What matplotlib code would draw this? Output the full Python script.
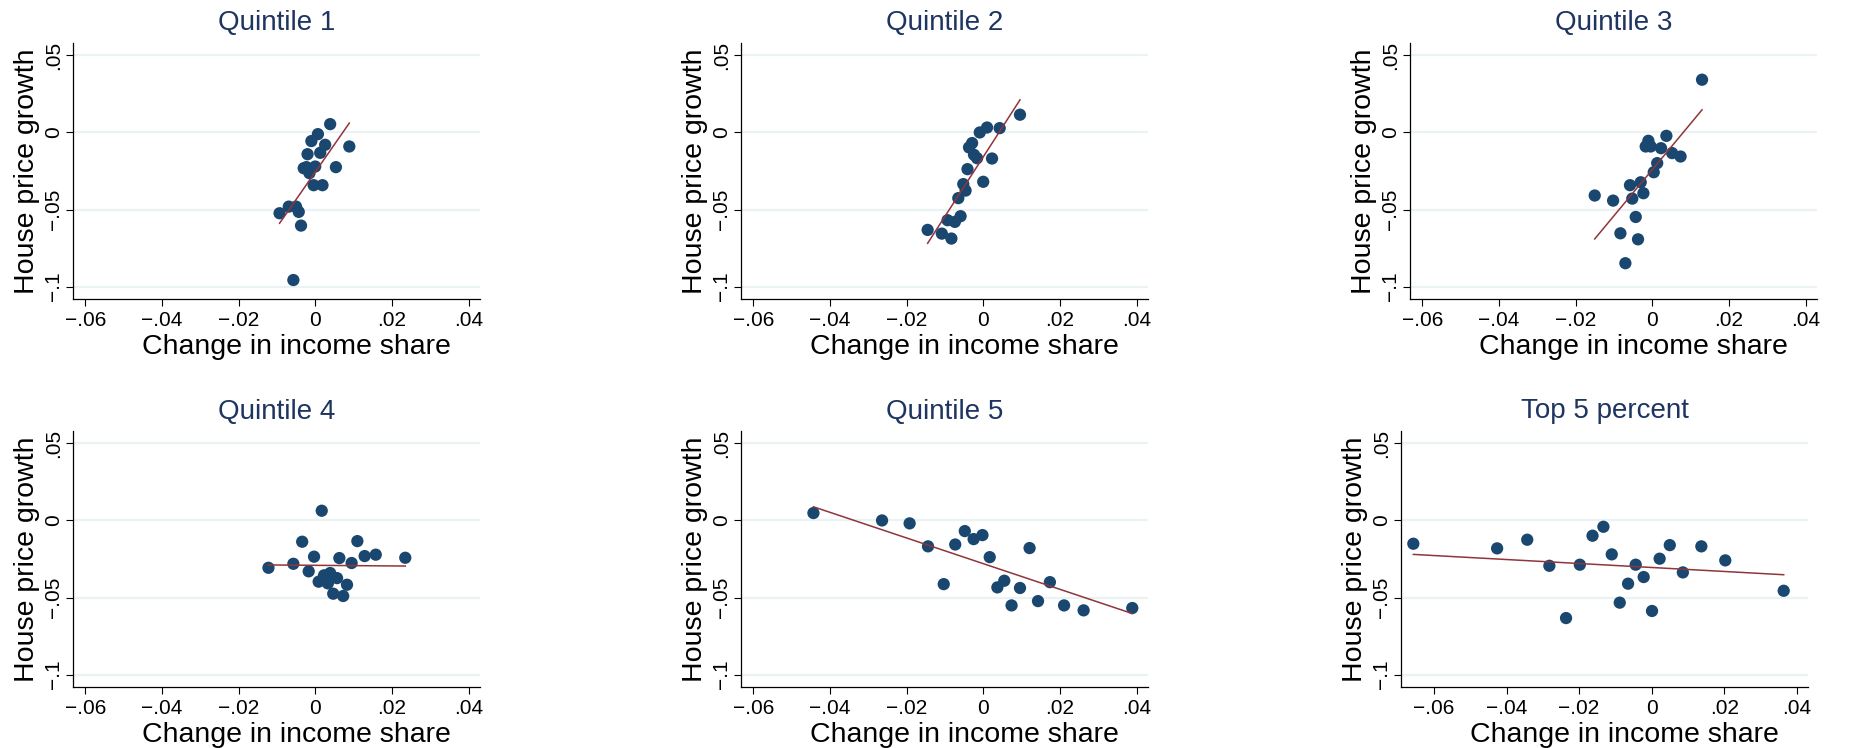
import numpy as np
import matplotlib.pyplot as plt

plt.rcParams['font.family'] = ['Liberation Sans', 'DejaVu Sans']

# scatter data: change in income share vs house price growth, by income group
titles = ['Quintile 1', 'Quintile 2', 'Quintile 3', 'Quintile 4', 'Quintile 5', 'Top 5 percent']

q1_x = [0.0039, 0.0007, -0.0010, 0.0026, 0.0089, -0.0020, 0.0013, -0.0030, -0.0023, 0.0000,
        -0.0015, 0.0054, -0.0004, 0.0019, -0.0069, -0.0050, -0.0093, -0.0043, -0.0037, -0.0057]
q1_y = [0.0054, -0.0011, -0.0056, -0.0080, -0.0091, -0.0141, -0.0132, -0.0232, -0.0225, -0.0221,
        -0.0264, -0.0225, -0.0342, -0.0342, -0.0481, -0.0481, -0.0524, -0.0515, -0.0604, -0.0957]

q2_x = [0.0096, 0.0010, 0.0043, -0.0009, -0.0029, -0.0037, -0.0024, -0.0016, 0.0023, -0.0041,
        0.0000, -0.0052, -0.0046, -0.0065, -0.0059, -0.0093, -0.0074, -0.0145, -0.0108, -0.0083]
q2_y = [0.0115, 0.0032, 0.0028, 0.0000, -0.0069, -0.0097, -0.0145, -0.0167, -0.0169, -0.0238,
        -0.0320, -0.0335, -0.0377, -0.0426, -0.0543, -0.0569, -0.0580, -0.0632, -0.0656, -0.0688]

q3_x = [0.0130, 0.0037, -0.0010, -0.0017, -0.0004, 0.0023, 0.0052, 0.0074, 0.0013, 0.0004,
        -0.0030, -0.0058, -0.0023, -0.0150, -0.0102, -0.0052, -0.0043, -0.0083, -0.0037, -0.0070]
q3_y = [0.0342, -0.0022, -0.0054, -0.0091, -0.0091, -0.0102, -0.0134, -0.0156, -0.0199, -0.0258,
        -0.0323, -0.0342, -0.0394, -0.0409, -0.0442, -0.0429, -0.0548, -0.0654, -0.0693, -0.0848]

q4_x = [0.0017, -0.0034, 0.0110, -0.0003, 0.0063, 0.0129, 0.0158, 0.0235, -0.0057, 0.0095,
        -0.0122, -0.0017, 0.0023, 0.0039, 0.0057, 0.0009, 0.0033, 0.0083, 0.0047, 0.0073]
q4_y = [0.0063, -0.0138, -0.0134, -0.0235, -0.0244, -0.0231, -0.0222, -0.0242, -0.0281, -0.0276,
        -0.0307, -0.0330, -0.0356, -0.0341, -0.0374, -0.0397, -0.0408, -0.0417, -0.0475, -0.0490]

q5_x = [-0.0443, -0.0264, -0.0192, -0.0144, -0.0103, -0.0073, -0.0048, -0.0025, -0.0002, 0.0017,
        0.0037, 0.0055, 0.0074, 0.0096, 0.0121, 0.0143, 0.0174, 0.0211, 0.0262, 0.0389]
q5_y = [0.0048, 0.0000, -0.0019, -0.0168, -0.0413, -0.0156, -0.0069, -0.0121, -0.0095, -0.0238,
        -0.0434, -0.0391, -0.0551, -0.0438, -0.0179, -0.0523, -0.0400, -0.0551, -0.0583, -0.0568]

top5_x = [-0.0657, -0.0426, -0.0343, -0.0282, -0.0236, -0.0198, -0.0163, -0.0133, -0.0110, -0.0088,
          -0.0065, -0.0044, -0.0022, 0.0001, 0.0022, 0.0050, 0.0086, 0.0137, 0.0203, 0.0364]
top5_y = [-0.0151, -0.0181, -0.0125, -0.0294, -0.0633, -0.0287, -0.0099, -0.0041, -0.0220, -0.0533,
          -0.0410, -0.0287, -0.0367, -0.0587, -0.0248, -0.0160, -0.0337, -0.0168, -0.0259, -0.0456]

# linear fit (slope, intercept) for each group
fit_slope = [3.57, 3.86, 2.99, -0.02, -0.832, -0.129]
fit_intercept = [-0.0257, -0.0159, -0.0242, -0.0291, -0.0280, -0.0305]

xs = [q1_x, q2_x, q3_x, q4_x, q5_x, top5_x]
ys = [q1_y, q2_y, q3_y, q4_y, q5_y, top5_y]

xtick_vals = [-0.06, -0.04, -0.02, 0.0, 0.02, 0.04]
ytick_vals = [-0.1, -0.05, 0.0, 0.05]


def fmt(v):
    if abs(v) < 1e-12:
        return '0'
    s = ('%g' % abs(v)).lstrip('0')
    return ('\u2212' + s) if v < 0 else s


W, H = 1870, 748
# axes boxes in pixels: left, right, top, bottom
boxes = [(73, 480, 43, 299), (741, 1148, 43, 299), (1410, 1817, 43, 299),
         (73, 480, 431, 687), (741, 1148, 431, 687), (1401, 1808, 431, 687)]
xlims = [(-0.0632, 0.043)] * 5 + [(-0.0691, 0.0431)]

fig = plt.figure(figsize=(W / 100, H / 100), dpi=100)
navy = '#1a476f'
maroon = '#90353b'

for i in range(6):
    l, r, t, b = boxes[i]
    ax = fig.add_axes([l / W, 1 - b / H, (r - l) / W, (b - t) / H])
    x = np.array(xs[i])
    y = np.array(ys[i])
    ax.scatter(x, y, s=78, color=navy, edgecolors='none', zorder=3)
    xx = np.array([x.min(), x.max()])
    ax.plot(xx, fit_slope[i] * xx + fit_intercept[i], color=maroon, lw=1.1, zorder=4)

    ax.set_xlim(*xlims[i])
    ax.set_ylim(-0.108, 0.058)
    ax.set_xticks(xtick_vals)
    ax.set_xticklabels([fmt(v) for v in xtick_vals], fontsize=15)
    ax.set_yticks(ytick_vals)
    ax.set_yticklabels([fmt(v) for v in ytick_vals], fontsize=15, rotation=90, va='center')
    ax.tick_params(length=5, width=0.8, color='black', pad=2)
    ax.tick_params(axis='x', pad=4)

    ax.yaxis.grid(True, color='#eaf2f3', lw=1.6)
    ax.set_axisbelow(True)
    for side in ['top', 'right']:
        ax.spines[side].set_visible(False)
    for side in ['left', 'bottom']:
        ax.spines[side].set_linewidth(0.9)

    ax.set_xlabel('Change in income share', fontsize=20.5)
    ax.xaxis.set_label_coords(0.55, -0.135)
    ax.set_ylabel('House price growth', fontsize=20.5, labelpad=3)
    ax.set_title(titles[i], fontsize=20, color='#1e3461', pad=9)

fig.savefig('out.png', dpi=100, facecolor='white')
